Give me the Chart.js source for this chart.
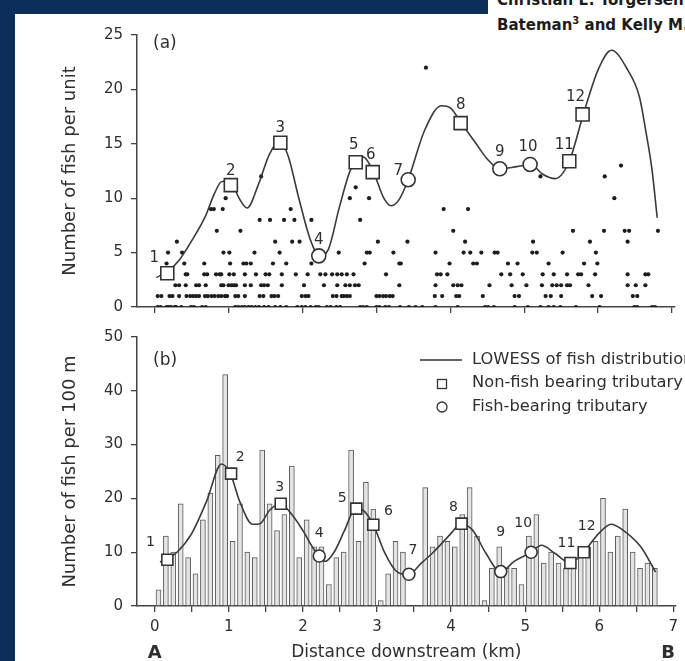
<!DOCTYPE html>
<html>
<head>
<meta charset="utf-8">
<script src="https://cdn.jsdelivr.net/npm/chart.js@4.4.0/dist/chart.umd.min.js"></script>
<style>
  body { margin: 0; width: 685px; height: 661px; overflow: hidden; position: relative; background: #fff; }
  #strip { position: absolute; left: 0; top: 0; width: 15px; height: 661px; background: #0b2f5a; z-index: 2; }
  #band { position: absolute; left: 0; top: 0; width: 488px; height: 14px; background: #0b2f5a; z-index: 2; }
  .hdr { position: absolute; left: 497px; white-space: nowrap; font: bold 15px "DejaVu Sans", sans-serif; color: #1c1c1c; }
  #hdr1 { top: -9px; }
  #hdr2 { top: 15px; }
  #cA { position: absolute; left: 0; top: 0; }
  #cB { position: absolute; left: 0; top: 320px; }
</style>
</head>
<body>
<div id="strip"></div>
<div id="band"></div>
<div class="hdr" id="hdr1">Christian E. Torgersen</div>
<div class="hdr" id="hdr2">Bateman<sup style="font-size:10px">3</sup> and Kelly M. Burnett</div>
<canvas id="cA" width="685" height="325"></canvas>
<canvas id="cB" width="685" height="343"></canvas>
<script>
// ---- data ----
const tickKmA = [0, 1, 2, 3, 4, 5, 6, 7];
const tickKmB = [0, 0.5, 1, 1.5, 2, 2.5, 3, 3.5, 4, 4.5, 5, 5.5, 6, 6.5, 7];

// tributaries 1-12
const tribNo = ['1', '2', '3', '4', '5', '6', '7', '8', '9', '10', '11', '12'];
const tribType = ['square', 'square', 'square', 'circle', 'square', 'square', 'circle', 'square', 'circle', 'circle', 'square', 'square'];
const tribKm = [0.17, 1.03, 1.70, 2.22, 2.72, 2.95, 3.43, 4.14, 4.67, 5.08, 5.61, 5.79];
const tribValA = [3.1, 11.2, 15.1, 4.7, 13.3, 12.4, 11.7, 16.9, 12.7, 13.1, 13.4, 17.7];
const tribValB = [8.6, 24.6, 19.0, 9.3, 18.1, 15.1, 5.9, 15.3, 6.4, 10.0, 8.0, 10.0];

// (a) LOWESS of fish per unit
const lowessKmA = [0.02, 0.18, 0.33, 0.51, 0.69, 0.8, 0.9, 1.0, 1.05, 1.15, 1.25, 1.4, 1.55, 1.68, 1.8, 1.95, 2.1, 2.23, 2.35, 2.5, 2.65, 2.82, 2.96, 3.1, 3.2, 3.3, 3.43, 3.65, 3.88, 4.0, 4.15, 4.35, 4.5, 4.67, 4.9, 5.09, 5.25, 5.42, 5.61, 5.8, 6.0, 6.18, 6.4, 6.56, 6.65, 6.73, 6.8];
const lowessA = [2.7, 3.3, 4.3, 6.2, 8.4, 10.3, 11.5, 11.6, 11.3, 9.9, 9.1, 11.2, 14.0, 15.2, 14.0, 10.0, 6.3, 4.7, 5.3, 9.2, 12.6, 13.8, 12.4, 10.0, 9.3, 9.8, 11.7, 16.2, 18.5, 18.3, 16.9, 15.0, 13.6, 12.7, 12.9, 13.1, 12.2, 11.8, 13.4, 17.7, 21.8, 23.6, 21.8, 19.3, 16.0, 12.6, 8.2];

// (a) dots: fish count per unit, positions (km) for each count
const dotRows = [
  [0, [0.04, 0.08, 0.16, 0.19, 0.22, 0.27, 0.29, 0.36, 0.49, 0.53, 0.64, 0.69, 1.09, 1.13, 1.18, 1.22, 1.27, 1.31, 1.36, 1.41, 1.48, 1.54, 1.63, 1.7, 1.78, 1.93, 1.99, 2.04, 2.11, 2.18, 2.22, 2.33, 2.38, 2.46, 2.51, 2.78, 2.82, 2.87, 3.0, 3.04, 3.12, 3.17, 3.32, 3.44, 3.53, 3.62, 3.8, 4.1, 4.47, 4.51, 4.59, 4.87, 5.05, 5.22, 5.33, 5.4, 5.49, 5.7, 6.02, 6.49, 6.53, 6.73, 6.77]],
  [1, [0.04, 0.09, 0.2, 0.24, 0.33, 0.43, 0.48, 0.52, 0.56, 0.6, 0.68, 0.72, 0.77, 0.81, 0.86, 0.9, 0.95, 0.98, 1.09, 1.13, 1.22, 1.42, 1.47, 1.58, 1.62, 1.67, 1.99, 2.04, 2.08, 2.41, 2.46, 2.53, 2.56, 2.6, 2.64, 3.0, 3.04, 3.09, 3.13, 3.18, 3.22, 3.79, 3.89, 4.08, 4.12, 4.44, 4.87, 4.93, 5.29, 5.36, 5.5, 5.92, 6.04, 6.47, 6.53]],
  [2, [0.28, 0.33, 0.42, 0.56, 0.6, 0.69, 0.9, 0.93, 1.0, 1.04, 1.07, 1.1, 1.22, 1.3, 1.44, 1.48, 1.53, 1.72, 2.02, 2.29, 2.47, 2.58, 2.64, 2.71, 2.76, 3.31, 3.8, 4.04, 4.1, 4.15, 4.53, 4.83, 5.03, 5.24, 5.38, 5.44, 5.5, 5.58, 5.62, 5.87, 6.4, 6.51, 6.64]],
  [3, [0.42, 0.44, 0.67, 0.71, 0.83, 0.88, 0.9, 1.01, 1.07, 1.22, 1.37, 1.5, 1.55, 1.72, 1.91, 2.07, 2.24, 2.31, 2.4, 2.47, 2.53, 2.6, 2.69, 3.13, 3.82, 3.87, 3.96, 4.69, 4.81, 4.98, 5.25, 5.4, 5.58, 5.73, 5.77, 5.96, 6.4, 6.64, 6.68]],
  [4, [0.16, 0.4, 0.67, 1.02, 1.2, 1.24, 1.3, 1.6, 1.78, 2.12, 2.84, 3.31, 3.33, 3.99, 4.31, 4.36, 4.78, 4.91, 5.33, 5.81, 5.99]],
  [5, [0.18, 0.37, 0.93, 1.01, 1.35, 1.69, 2.49, 2.87, 2.91, 3.23, 3.8, 4.18, 4.27, 4.42, 4.6, 4.64, 5.11, 5.17, 5.52, 5.97]],
  [6, [0.3, 1.63, 1.86, 1.96, 3.02, 3.42, 4.2, 5.12, 5.89, 6.4]],
  [7, [0.84, 1.16, 4.04, 5.66, 6.08, 6.36, 6.42, 6.81]],
  [8, [1.42, 1.56, 1.75, 1.89, 2.12, 2.78]],
  [9, [0.76, 0.8, 0.92, 1.84, 3.91, 4.24]],
  [10, [0.96, 2.64, 2.9, 6.22]],
  [11, [2.72]],
  [12, [1.44, 5.22, 6.09]],
  [13, [6.31]],
  [22, [3.67]]
];

// (b) fish per 100 m, one bar per 100 m reach
const barKm = [0.05, 0.15, 0.25, 0.35, 0.45, 0.55, 0.65, 0.75, 0.85, 0.95, 1.05, 1.15, 1.25, 1.35, 1.45, 1.55, 1.65, 1.75, 1.85, 1.95, 2.05, 2.15, 2.25, 2.35, 2.45, 2.55, 2.65, 2.75, 2.85, 2.95, 3.05, 3.15, 3.25, 3.35, 3.45, 3.55, 3.65, 3.75, 3.85, 3.95, 4.05, 4.15, 4.25, 4.35, 4.45, 4.55, 4.65, 4.75, 4.85, 4.95, 5.05, 5.15, 5.25, 5.35, 5.45, 5.55, 5.65, 5.75, 5.85, 5.95, 6.05, 6.15, 6.25, 6.35, 6.45, 6.55, 6.65, 6.75];
const fishPer100m = [3, 13, 10, 19, 9, 6, 16, 21, 28, 43, 12, 19, 10, 9, 29, 19, 14, 17, 26, 9, 16, 11, 11, 4, 9, 10, 29, 12, 23, 18, 1, 6, 12, 10, 0, 0, 22, 11, 13, 12, 11, 17, 22, 13, 1, 7, 11, 7, 7, 4, 13, 17, 8, 10, 8, 7, 7, 10, 11, 12, 20, 10, 13, 18, 10, 7, 8, 7];

// (b) LOWESS
const lowessKmB = [0.07, 0.16, 0.3, 0.5, 0.7, 0.9, 1.02, 1.15, 1.32, 1.42, 1.55, 1.69, 1.85, 2.0, 2.15, 2.3, 2.42, 2.56, 2.71, 2.8, 2.95, 3.1, 3.25, 3.42, 3.6, 3.76, 4.0, 4.13, 4.29, 4.47, 4.67, 4.85, 5.08, 5.22, 5.4, 5.61, 5.72, 5.79, 6.0, 6.16, 6.3, 6.56, 6.76];
const lowessB = [8.2, 8.7, 10.0, 13.5, 19.5, 26.4, 24.6, 19.3, 15.2, 15.3, 17.8, 19.0, 17.0, 14.0, 10.5, 8.3, 10.0, 14.0, 18.1, 17.9, 15.1, 10.0, 6.6, 5.8, 8.0, 10.0, 13.5, 15.3, 14.1, 9.8, 6.3, 8.3, 10.0, 11.3, 9.8, 8.0, 9.0, 10.0, 13.6, 15.2, 14.3, 11.0, 6.3];

// ---- look ----
Chart.defaults.font.family = '"DejaVu Sans", sans-serif';
const ink = '#2f2f2f';
const axisInk = '#444444';
const xMin = -0.24, xMax = 7.03;

const numOffA = [[-13, -15], [0, -14], [0, -15], [0, -16], [-2, -17], [-2, -17], [-10, -9], [0, -18], [0, -17], [-2, -17], [-5, -16], [-7, -17]];
const numOffB = [[-17, -17], [9, -16], [-1, -16], [0, -23], [-14, -10], [15, -13], [4, -24], [-8, -16], [0, -39], [-8, -29], [-4, -20], [3, -26]];

function fixTicks(list) {
  return s => { s.ticks = list.map(v => ({ value: v })); };
}

function axisX(ticks, height, showLabels, title) {
  return {
    type: 'linear', min: xMin, max: xMax, offset: false,
    afterBuildTicks: fixTicks(ticks),
    afterFit: s => { s.height = height; s.paddingLeft = 0; s.paddingRight = 0; },
    grid: { drawOnChartArea: false, drawTicks: true, tickLength: 6, color: axisInk, lineWidth: 1.3, offset: false },
    border: { display: true, color: axisInk, width: 1.5 },
    ticks: {
      display: showLabels, color: ink, padding: 6, maxRotation: 0, autoSkip: false,
      font: { size: 15 },
      callback: v => Number.isInteger(v) ? String(v) : ''
    },
    title: title ? { display: true, text: title, color: ink, font: { size: 17 }, padding: { top: 0, bottom: 0 } } : { display: false }
  };
}

function axisY(max, step, title) {
  return {
    min: 0, max: max,
    afterFit: s => { s.width = 81; },
    grid: { drawOnChartArea: false, drawTicks: true, tickLength: 6, color: axisInk, lineWidth: 1.3 },
    border: { display: true, color: axisInk, width: 1.5 },
    ticks: { stepSize: step, color: ink, padding: 8, font: { size: 15 } },
    title: { display: true, text: title, color: ink, font: { size: 18 }, padding: { top: 4, bottom: 4 } }
  };
}

function tribDataset(values, sq, ci) {
  return {
    type: 'scatter',
    data: tribKm.map((x, i) => ({ x: x, y: values[i] })),
    pointStyle: tribType.map(t => t === 'square' ? 'rect' : 'circle'),
    pointRadius: tribType.map(t => t === 'square' ? sq : ci),
    backgroundColor: '#ffffff',
    borderColor: '#333333',
    borderWidth: 1.6,
    order: 0
  };
}

function lowessDataset(km, vals) {
  return {
    type: 'line',
    data: km.map((x, i) => ({ x: x, y: vals[i] })),
    showLine: true,
    borderColor: '#3a3a3a',
    borderWidth: 1.6,
    pointRadius: 0,
    fill: false,
    cubicInterpolationMode: 'monotone',
    order: 1
  };
}

function notes(cfg) {
  return {
    id: 'notes',
    afterDatasetsDraw(chart) {
      const ctx = chart.ctx;
      const x = chart.scales.x, y = chart.scales.y;
      ctx.save();
      ctx.fillStyle = ink;
      ctx.textAlign = 'center';
      ctx.textBaseline = 'middle';
      ctx.font = cfg.numFont;
      tribKm.forEach((km, i) => {
        ctx.fillText(tribNo[i], x.getPixelForValue(km) + cfg.off[i][0], y.getPixelForValue(cfg.vals[i]) + cfg.off[i][1]);
      });
      ctx.textAlign = 'left';
      ctx.font = '17px "DejaVu Sans"';
      ctx.fillText(cfg.panel, 153, cfg.panelY);
      if (cfg.extra) cfg.extra(ctx, x);
      ctx.restore();
    }
  };
}

// legend + end letters for panel (b)
function legendB(ctx, x) {
  ctx.strokeStyle = '#333333';
  ctx.lineWidth = 1.5;
  ctx.beginPath();
  ctx.moveTo(420, 40); ctx.lineTo(462, 40);
  ctx.stroke();
  ctx.lineWidth = 1.3;
  ctx.strokeRect(437.5, 59.5, 9, 9);
  ctx.beginPath();
  ctx.arc(442, 87, 5, 0, Math.PI * 2);
  ctx.stroke();
  ctx.font = '16.3px "DejaVu Sans"';
  ctx.fillText('LOWESS of fish distribution', 472, 40);
  ctx.fillText('Non-fish bearing tributary', 472, 63);
  ctx.fillText('Fish-bearing tributary', 472, 87);
  ctx.font = 'bold 18px "DejaVu Sans"';
  ctx.textAlign = 'center';
  ctx.fillText('A', x.getPixelForValue(0), 333);
  ctx.fillText('B', 668, 333);
}

// ---- panel (a) ----
const dots = [];
dotRows.forEach(row => row[1].forEach(km => dots.push({ x: km, y: row[0] })));

new Chart(document.getElementById('cA'), {
  type: 'scatter',
  data: {
    datasets: [
      tribDataset(tribValA, 9.2, 7),
      lowessDataset(lowessKmA, lowessA),
      { type: 'scatter', data: dots, pointRadius: 2.1, backgroundColor: '#1d1d1d', borderWidth: 0, order: 2 }
    ]
  },
  options: {
    responsive: false, animation: false,
    layout: { padding: { left: 56, top: 35, right: 3, bottom: 0 } },
    plugins: { legend: { display: false }, tooltip: { enabled: false } },
    scales: {
      x: axisX(tickKmA, 18, false, null),
      y: axisY(25, 5, 'Number of fish per unit')
    }
  },
  plugins: [notes({ vals: tribValA, off: numOffA, numFont: '15px "DejaVu Sans"', panel: '(a)', panelY: 44 })]
});

// ---- panel (b) ----
new Chart(document.getElementById('cB'), {
  type: 'bar',
  data: {
    datasets: [
      tribDataset(tribValB, 7.8, 6),
      lowessDataset(lowessKmB, lowessB),
      {
        type: 'bar',
        data: barKm.map((x, i) => ({ x: x, y: fishPer100m[i] })),
        barThickness: 5,
        backgroundColor: '#e4e4e4',
        borderColor: '#5a5a5a',
        borderWidth: 1,
        order: 2
      }
    ]
  },
  options: {
    responsive: false, animation: false,
    layout: { padding: { left: 56, top: 16, right: 3, bottom: 0 } },
    plugins: { legend: { display: false }, tooltip: { enabled: false } },
    scales: {
      x: axisX(tickKmB, 57, true, 'Distance downstream (km)'),
      y: axisY(50, 10, 'Number of fish per 100 m')
    }
  },
  plugins: [notes({ vals: tribValB, off: numOffB, numFont: '14px "DejaVu Sans"', panel: '(b)', panelY: 41, extra: legendB })]
});
</script>
</body>
</html>
